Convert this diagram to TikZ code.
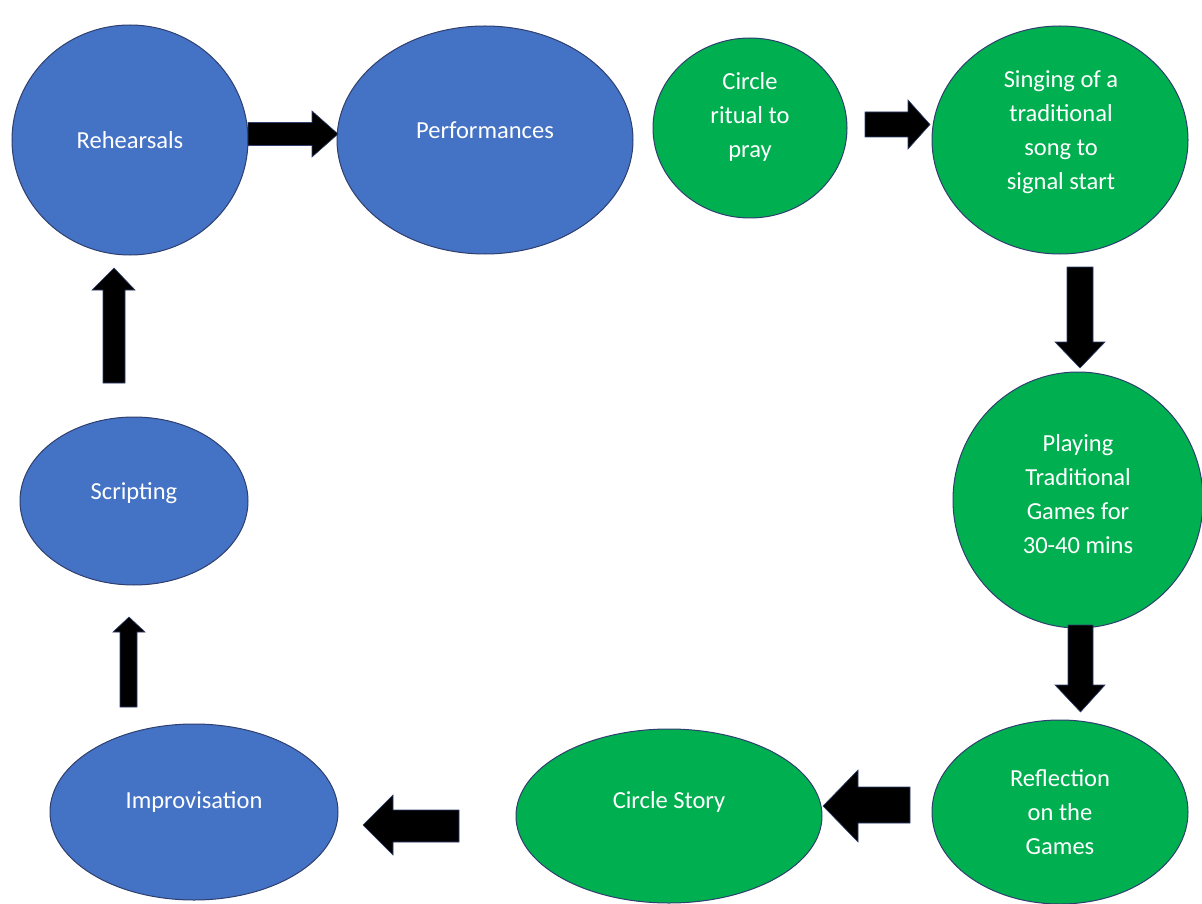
\documentclass[tikz,border=0pt]{standalone}
\usepackage{fontspec}
\setmainfont{Carlito}
\usetikzlibrary{shapes.geometric}
\definecolor{blu}{HTML}{4472C4}
\definecolor{grn}{HTML}{00B050}
\definecolor{edgec}{HTML}{2F3F6F}
\begin{document}
\begin{tikzpicture}[x=1pt,y=-1pt,
  blob/.style={ellipse, draw=edgec, line width=1pt, inner sep=0pt},
  bluenode/.style={blob, fill=blu},
  greennode/.style={blob, fill=grn},
  lbl/.style={text=white, font=\fontsize{24.5}{34}\selectfont, align=center, inner sep=0pt},
  blockarrow/.style={fill=black, draw=edgec, line width=0.6pt, line join=miter}]
\useasboundingbox (0,0) rectangle (1202,904);
\fill[white] (0,0) rectangle (1202,904);
% ellipses
\node[bluenode, minimum width=236, minimum height=230] (reh) at (130,140) {};
\node[bluenode, minimum width=296, minimum height=228] (perf) at (485,140) {};
\node[greennode, minimum width=194, minimum height=180] (ritual) at (750,128) {};
\node[greennode, minimum width=256, minimum height=228] (sing) at (1060,140) {};
\node[greennode, minimum width=250, minimum height=256] (play) at (1078,500) {};
\node[greennode, minimum width=256, minimum height=184] (refl) at (1060,812) {};
\node[greennode, minimum width=306, minimum height=174] (story) at (669,816) {};
\node[bluenode, minimum width=288, minimum height=176] (impro) at (194,812) {};
\node[bluenode, minimum width=228, minimum height=168] (script) at (134,501) {};
% labels
\node[lbl] (rehT) at (130,140) {Rehearsals};
\node[lbl] (perfT) at (485,130) {Performances};
\node[lbl] (ritualT) at (750,117) {Circle\\ritual to\\pray};
\begin{scope}
\clip (930,25) rectangle (1202,206);
\node[lbl] (singT) at (1061,147) {Singing of a\\traditional\\song to\\signal start\\of the};
\end{scope}
\node[lbl] (playT) at (1078,494) {Playing\\Traditional\\Games for\\30-40 mins};
\node[lbl] (reflT) at (1060,812) {Reflection\\on the\\Games};
\node[lbl] (storyT) at (669,802) {Circle Story};
\node[lbl] (improT) at (194,802) {Improvisation};
\node[lbl] (scriptT) at (134,493) {Scripting};
% block arrows
\draw[blockarrow] (248,122.5) -- (312,122.5) -- (312,111) -- (338,134) -- (312,157) -- (312,145.5) -- (248,145.5) -- cycle;
\draw[blockarrow] (865,112) -- (908,112) -- (908,100) -- (930,124.5) -- (908,149) -- (908,137) -- (865,137) -- cycle;
\draw[blockarrow] (1067,267) -- (1067,342) -- (1055,342) -- (1080,368) -- (1105,342) -- (1093,342) -- (1093,267) -- cycle;
\draw[blockarrow] (1068,625) -- (1068,685) -- (1055,685) -- (1080.5,712) -- (1105,685) -- (1093,685) -- (1093,625) -- cycle;
\draw[blockarrow] (910,787) -- (858,787) -- (858,770) -- (823,806) -- (858,842) -- (858,823) -- (910,823) -- cycle;
\draw[blockarrow] (459,810) -- (393,810) -- (393,795) -- (363,825) -- (393,855) -- (393,842) -- (459,842) -- cycle;
\draw[blockarrow] (120,707) -- (120,632) -- (113,632) -- (129,617) -- (145,632) -- (137,632) -- (137,707) -- cycle;
\draw[blockarrow] (103,383) -- (103,290) -- (92,290) -- (114,268) -- (135,290) -- (125,290) -- (125,383) -- cycle;
\end{tikzpicture}
\end{document}
